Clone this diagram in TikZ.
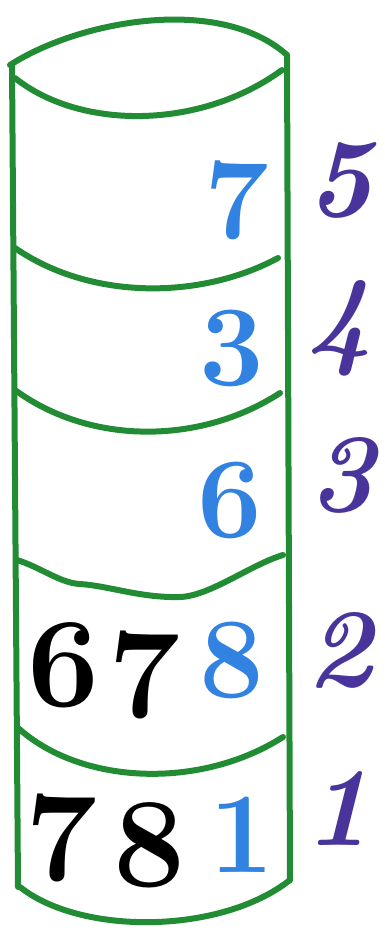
\documentclass[tikz,border=0pt]{standalone}
\definecolor{cylgreen}{RGB}{34,140,52}
\definecolor{valblue}{RGB}{50,130,225}
\definecolor{idxpurple}{RGB}{72,52,155}
\begin{document}
\begin{tikzpicture}[x=1pt,y=-1pt,
  wall/.style={draw=cylgreen,line width=6pt,line cap=round,line join=round},
  bluedig/.style={text=valblue,inner sep=0pt,font=\fontsize{115}{115}\selectfont\bfseries},
  blackdig/.style={text=black,inner sep=0pt,font=\fontsize{128}{128}\selectfont\bfseries},
  idx/.style={text=idxpurple,inner sep=0pt,font=\fontsize{112}{112}\selectfont\bfseries\itshape}]
\useasboundingbox (0,0) rectangle (385,931);
% cylinder
\draw[wall] (10,65) .. controls (80,20) and (220,-5) .. (287,55);
\draw[wall] (15,78) .. controls (80,130) and (200,130) .. (282,70);
\draw[wall] (12,65) -- (18,887);
\draw[wall] (287,55) -- (290,880);
\draw[wall] (15,248) .. controls (90,300) and (200,300) .. (278,258);
\draw[wall] (15,390) .. controls (90,445) and (200,445) .. (280,393);
\draw[wall] (17,560) .. controls (40,567) and (60,583) .. (80,584) .. controls (110,586) and (140,598) .. (180,597) .. controls (210,596) and (250,565) .. (283,555);
\draw[wall] (17,727) .. controls (80,785) and (200,790) .. (283,737);
\draw[wall] (20,887) .. controls (80,935) and (220,935) .. (290,880);
% values
\node[bluedig] (v5) at (237,200) {7};
\node[bluedig] (v4) at (232,348) {3};
\node[bluedig] (v3) at (230,500) {6};
\node[blackdig] (b6) at (64,665) {6};
\node[blackdig] (b7) at (145,675) {7};
\node[bluedig] (v2) at (232,660) {8};
\node[blackdig] (c7) at (62,838) {7};
\node[blackdig] (c8) at (150,845) {8};
\node[bluedig] (v1) at (242,835) {1};
% indices
\node[idx] (i5) at (340,180) {5};
\node[idx] (i4) at (340,328) {4};
\node[idx] (i3) at (342,475) {3};
\node[idx] (i2) at (340,650) {2};
\node[idx] (i1) at (338,808) {1};
\end{tikzpicture}
\end{document}
